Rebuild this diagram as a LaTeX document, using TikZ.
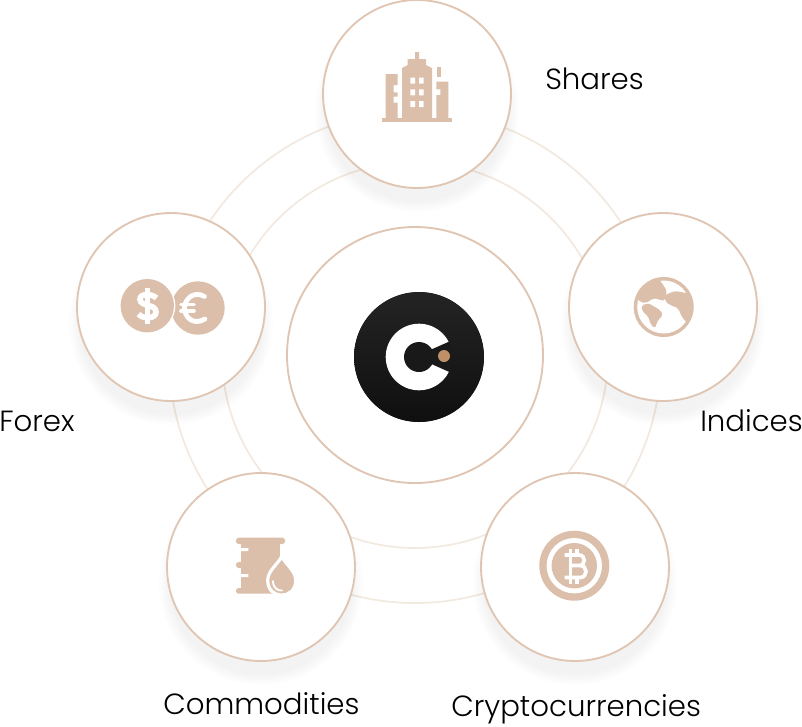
\documentclass[tikz,border=0pt]{standalone}
\usepackage{fontspec}
\setmainfont{Poppins Light}
\usetikzlibrary{calc}
\definecolor{tan}{HTML}{DBBFAA}
\definecolor{edgetan}{HTML}{E0C6B2}
\definecolor{ringc}{HTML}{F2E9E1}
\definecolor{dotc}{HTML}{BF9068}
\tikzset{
  x=0.75pt,y=-0.75pt,
  disc/.style={circle,draw=edgetan,fill=white,line width=1.4pt,minimum size=141pt,inner sep=0pt},
  hub/.style={circle,draw=edgetan,fill=white,line width=1.4pt,minimum size=192pt,inner sep=0pt},
  ring/.style={circle,draw=ringc,line width=1.3pt,inner sep=0pt},
  lab/.style={anchor=base west,font=\fontsize{21.9pt}{24pt}\selectfont,text=black,inner sep=0pt},
  ink/.style={fill=tan,draw=none},
  softshadow/.style={fill=black,fill opacity=0.006,draw=none}
}
\begin{document}
\begin{tikzpicture}
\useasboundingbox (0,0) rectangle (802,726);
\fill[white] (0,0) rectangle (802,726);
% rings
\node[ring,minimum size=369pt] (outerring) at (415,357) {};
\node[ring,minimum size=289.5pt] (innerring) at (415,355) {};
% soft shadows
\foreach \cx/\cy in {417/94,171/307,663/307,261/567,575/567}{
  \foreach \r in {92,94,96,98,100,102}{
    \fill[softshadow] (\cx,\cy+16) circle [radius=\r];
  }
}
% discs
\node[disc] (shares) at (417,94) {};
\node[disc] (forex) at (171,307) {};
\node[disc] (indices) at (663,307) {};
\node[disc] (commodities) at (261,567) {};
\node[disc] (crypto) at (575,567) {};
\node[hub] (hub) at (415,355) {};
% logo
\fill[black!90] (419,357) circle [radius=65];
\shade[top color=black!86,bottom color=black!94] (419,357) circle [radius=64.8];
\fill[white] (419,357) circle [radius=33.3];
\fill[black!90] (419,357) circle [radius=15];
\begin{scope}
\clip (419,357) circle [radius=34];
\fill[black!90] (415,356.7) -- (455,339) -- (455,374.5) -- cycle;
\end{scope}
\fill[dotc] (444,356) circle [radius=6];
% building icon
\fill[ink] (382,118) rectangle (452,122);
\fill[ink] (402,118) -- (402,68) -- (407.7,65) -- (407.7,59) -- (415,59) -- (415,52) -- (419,52) -- (419,59) -- (426,59) -- (426,65) -- (432,68) -- (432,118) -- cycle;
\fill[white] (410.3,77.7) rectangle (415,83.7) (419,77.7) rectangle (423.7,83.7)
  (410.3,89.3) rectangle (415,95.3) (419,89.3) rectangle (423.7,95.3)
  (410.3,101) rectangle (415,107) (419,101) rectangle (423.7,107);
\fill[ink] (385.7,118) -- (385.7,74) -- (397.7,74) -- (397.7,85) -- (393.7,85) -- (393.7,92.3) -- (397.7,92.3) -- (397.7,96.7) -- (393.7,96.7) -- (393.7,102.7) -- (397.7,102.7) -- (397.7,118) -- cycle;
\fill[ink] (436.3,118) -- (436.3,95) -- (440.3,95) -- (440.3,89.3) -- (436.3,89.3) -- (436.3,81.7) -- (448.3,81.7) -- (448.3,118) -- cycle;
\fill[ink] (437.3,66.7) rectangle (441.3,77);
% dollar and euro icon
\fill[ink] (198,308) circle [radius=26.7];
\fill[white] (147.3,305.7) circle [radius=28];
\fill[ink] (147.3,305.7) circle [radius=26.7];
\draw[white,line width=4.2pt] (156.5,298) .. controls (152,293.5) and (139.5,293) .. (140,299.5) .. controls (140.5,307) and (156,303.5) .. (156,312) .. controls (156,319.5) and (142,319) .. (138.5,314);
\draw[white,line width=3.6pt] (147.5,288) -- (147.5,324);
\draw[white,line width=3.6pt,line cap=round] (204.5,296.5) .. controls (193,290) and (184.5,300) .. (184.5,308) .. controls (184.5,317) and (193,326) .. (205,319);
\draw[white,line width=2.7pt,line cap=round] (181,304.5) -- (194,304.5) (181,311) -- (194,311);
% globe icon
\fill[ink] (663.7,307) circle [radius=30];
\fill[white] (663.7,307) circle [radius=26.5];
\begin{scope}
\clip (663.7,307) circle [radius=27];
\fill[ink,rounded corners=1.5pt] (635,295) -- (645,280) -- (658,278) -- (664,286) -- (667,292) -- (664,301) -- (654,298) -- (646,303) -- (640,302) -- cycle;
\fill[ink,rounded corners=1.5pt] (641,306) -- (648,303) -- (660,310) -- (663,315) -- (658,320) -- (655,328) -- (651,325) -- (648,316) -- (643,312) -- cycle;
\fill[ink,rounded corners=1.5pt] (665,295) -- (675,291) -- (692,294) -- (694,308) -- (687,323) -- (682,317) -- (678,308) -- (670,305) -- (665,301) -- cycle;
\end{scope}
% barrel icon
\fill[ink,rounded corners=2pt] (236,537.7) rectangle (285,544);
\fill[ink] (240.7,541) rectangle (280,590);
\fill[ink,rounded corners=2pt] (236,588) rectangle (275,593.7);
\fill[ink,rounded corners=2pt] (236,562) rectangle (246,568);
\fill[white] (240.7,548) rectangle (248.3,551) (240.7,574) rectangle (248.3,577);
\filldraw[fill=tan,draw=white,line width=2.4pt] (281.7,556.7) .. controls (277,565) and (267.7,571) .. (267.7,580.5) .. controls (267.7,600) and (295.7,600) .. (295.7,580.5) .. controls (295.7,571) and (286.4,565) .. (281.7,556.7) -- cycle;
\draw[white,line width=1.4pt,line cap=round] (273,581) .. controls (273,588) and (278,591) .. (282,590.5);
% bitcoin icon
\fill[ink] (574.3,565.7) circle [radius=35];
\fill[white] (574.3,565.7) circle [radius=27.7];
\fill[ink] (574.3,565.7) circle [radius=22.7];
\draw[white,line width=2.8pt,line join=round] (564.5,555) -- (579,555) .. controls (586,555) and (586,565.5) .. (579,565.5) -- (570.5,565.5) -- (580,565.5) .. controls (588,565.5) and (588,577.5) .. (580,577.5) -- (564.5,577.5);
\draw[white,line width=2.8pt] (570.5,555) -- (570.5,577.5);
\draw[white,line width=2.8pt] (570.5,549) -- (570.5,555) (577,549) -- (577,555) (570.5,577.5) -- (570.5,583.5) (577,577.5) -- (577,583.5);
% labels
\node[lab] (tshares) at (545,89) {Shares};
\node[lab] (tindices) at (700,431) {Indices};
\node[lab] (tforex) at (-1,431) {Forex};
\node[lab] (tcomm) at (163,714) {Commodities};
\node[lab] (tcrypto) at (451,716) {Cryptocurrencies};
\end{tikzpicture}
\end{document}
